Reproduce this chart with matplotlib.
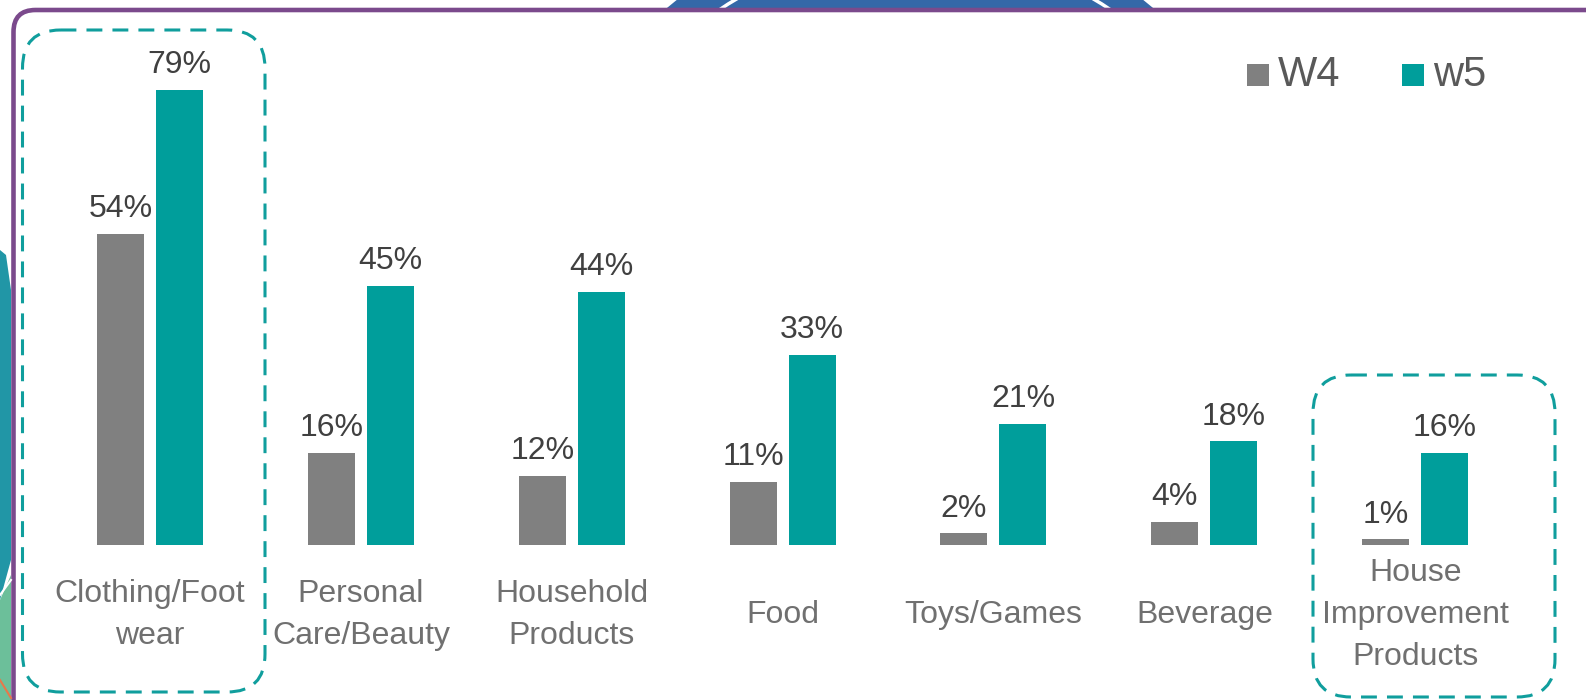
import numpy as np
import matplotlib
matplotlib.use("Agg")
import matplotlib.pyplot as plt
from matplotlib.patches import FancyBboxPatch, Circle, Polygon, Rectangle
from matplotlib import transforms

plt.rcParams['font.family'] = ['Liberation Sans', 'DejaVu Sans']

# dados
categorias = ["Clothing/Foot\nwear", "Personal\nCare/Beauty", "Household\nProducts",
              "Food", "Toys/Games", "Beverage", "House\nImprovement\nProducts"]
w4 = [54, 16, 12, 11, 2, 4, 1]
w5 = [79, 45, 44, 33, 21, 18, 16]
series_nomes = ["W4", "w5"]

CINZA = '#808080'
VERDE = '#009E9B'
ROXO = '#7B4A8C'

W, H = 1586, 700
fig = plt.figure(figsize=(W / 100, H / 100), dpi=100)
fig.patch.set_facecolor('white')

# fundo decorativo + moldura (coordenadas em pixels)
bg = fig.add_axes([0, 0, 1, 1], zorder=0)
bg.set_xlim(0, W)
bg.set_ylim(H, 0)
bg.axis('off')

bg.add_patch(Circle((910, 300), 380, facecolor='#3468A8', edgecolor='none'))
bg.add_patch(Circle((915, 300), 350, facecolor='none', edgecolor='white', lw=2.5))
bg.add_patch(Polygon([(0, 250), (6, 255), (11, 290), (11, 560), (0, 600)],
                     closed=True, facecolor='#2196A6', edgecolor='none'))
bg.add_patch(Polygon([(0, 600), (11, 575), (11, 700), (0, 700)],
                     closed=True, facecolor='#6CBF9A', edgecolor='none'))
bg.plot([0, 11], [595, 580], color='white', lw=1.5)
bg.plot([0, 11], [680, 698], color='#E8784A', lw=1.5)

bg.add_patch(FancyBboxPatch((13.5, 10), 1650, 760,
                            boxstyle='round,pad=0,rounding_size=22',
                            facecolor='white', edgecolor=ROXO, lw=3.3))

# grafico de barras
ax = fig.add_axes([44.6 / W, 155 / H, 1476 / W, 489.6 / H], zorder=1)
ax.set_facecolor('none')
ax.set_xlim(-0.5, 6.5)
ax.set_ylim(0, 85)
ax.axis('off')

x = np.arange(len(categorias))
larg = 0.223
desl = 0.14
b1 = ax.bar(x - desl, w4, larg, color=CINZA, label=series_nomes[0])
b2 = ax.bar(x + desl, w5, larg, color=VERDE, label=series_nomes[1])
for b in (b1, b2):
    ax.bar_label(b, fmt='{:.0f}%', padding=7, fontsize=23, color='#404040')

trans = transforms.blended_transform_factory(ax.transData, fig.transFigure)
for xi, cat in zip(x, categorias):
    ax.text(xi, (H - 615) / H, cat, transform=trans, ha='center', va='center',
            fontsize=23, color='#707070', linespacing=1.52)

# legenda manual
top = fig.add_axes([0, 0, 1, 1], zorder=2)
top.set_xlim(0, W)
top.set_ylim(H, 0)
top.axis('off')
top.patch.set_alpha(0)
for xq, cor, nome in [(1247, CINZA, series_nomes[0]), (1402, VERDE, series_nomes[1])]:
    top.add_patch(Rectangle((xq, 64), 22, 22, facecolor=cor, edgecolor='none'))
    top.text(xq + 31, 75, nome, fontsize=30, color='#595959', va='center', ha='left')

# caixas tracejadas de destaque
estilo = (0, (5.2, 3.3))
top.add_patch(FancyBboxPatch((22.5, 30), 242.5, 662,
                             boxstyle='round,pad=0,rounding_size=38',
                             facecolor='none', edgecolor='#109E9D', lw=2.2, linestyle=estilo))
top.add_patch(FancyBboxPatch((1313, 375), 242, 322,
                             boxstyle='round,pad=0,rounding_size=38',
                             facecolor='none', edgecolor='#109E9D', lw=2.2, linestyle=estilo))

fig.savefig('out.png', dpi=100)
